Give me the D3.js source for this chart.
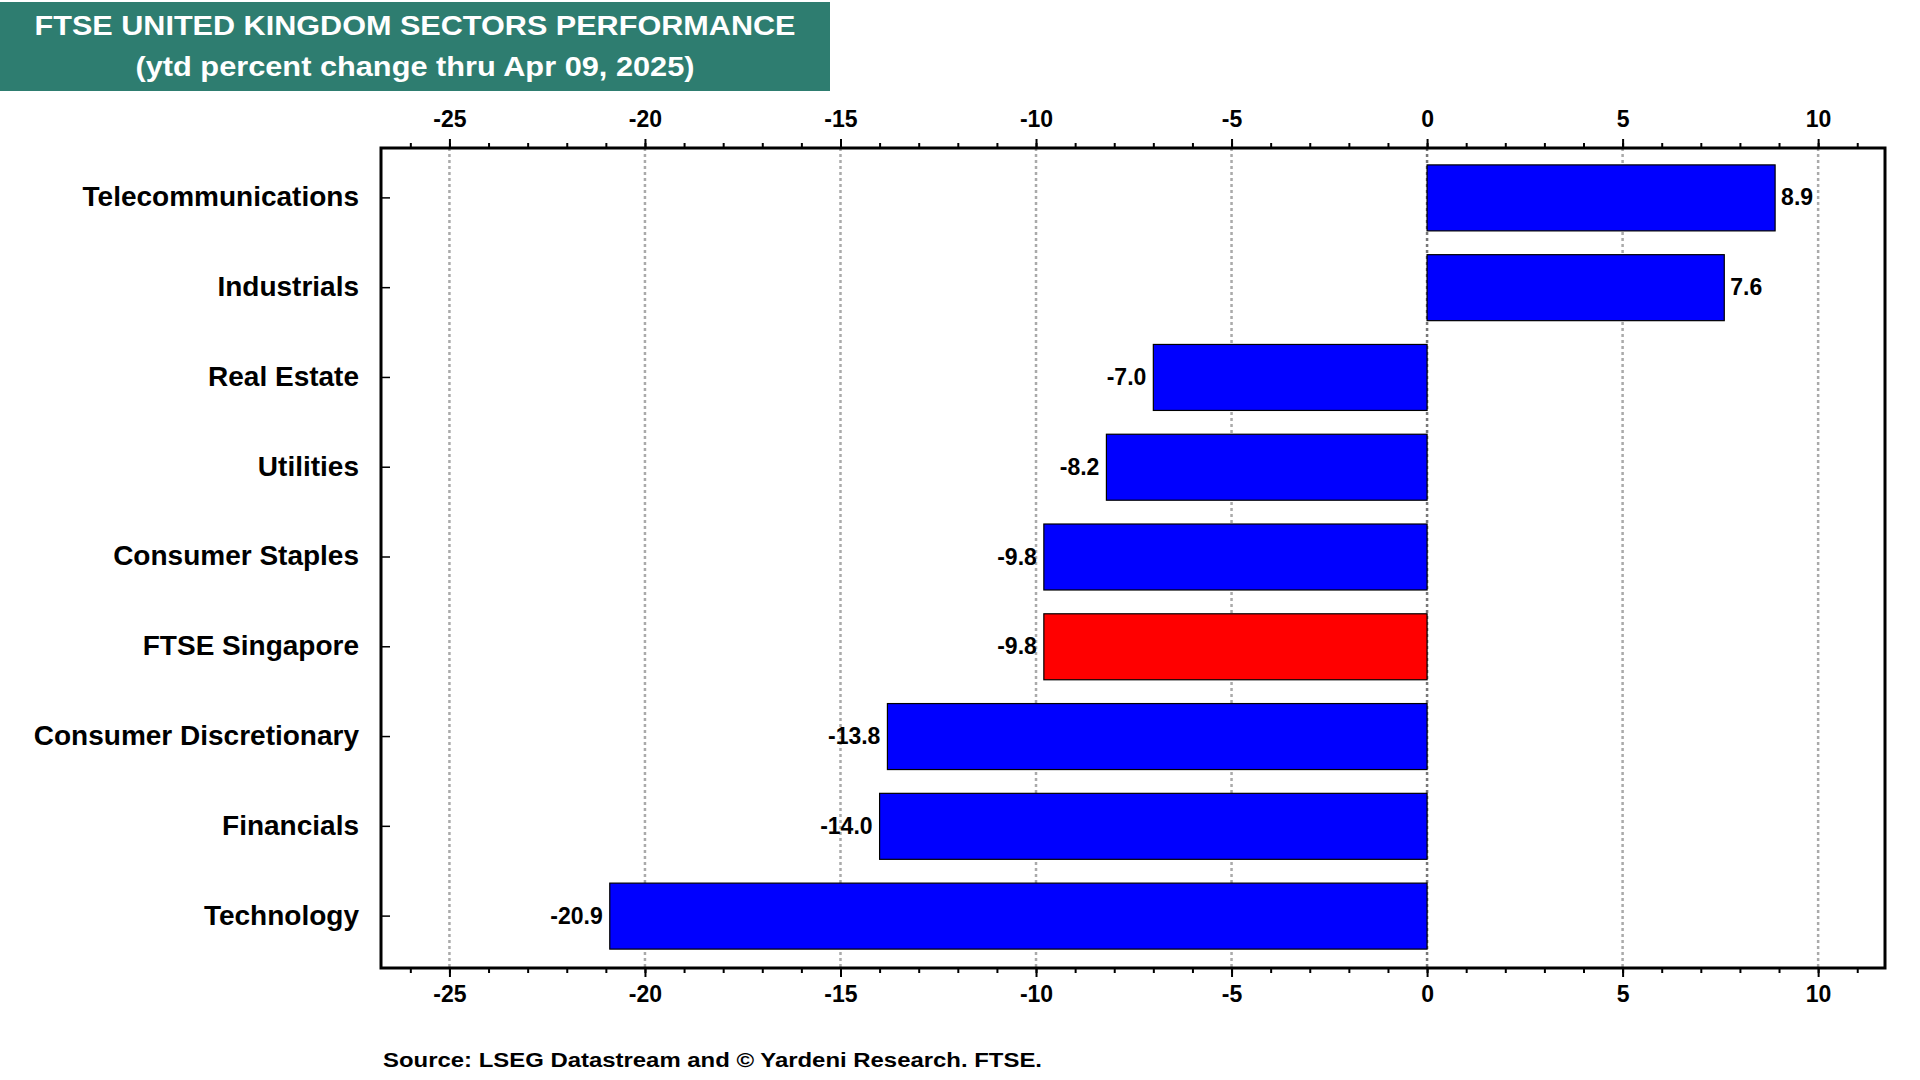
<!DOCTYPE html>
<html>
<head>
<meta charset="utf-8">
<script src="https://cdn.jsdelivr.net/npm/d3@7"></script>
<style>
  body { margin: 0; background: #fff; }
  text { font-family: "Liberation Sans", Arial, sans-serif; font-weight: bold; }
</style>
</head>
<body>
<div id="display"></div>
<script>

// values (ytd % change thru Apr 09, 2025)
var categories = ["Telecommunications", "Industrials", "Real Estate", "Utilities", "Consumer Staples",
                  "FTSE Singapore", "Consumer Discretionary", "Financials", "Technology"];
var values = [8.9, 7.6, -7.0, -8.2, -9.8, -9.8, -13.8, -14.0, -20.9];
var highlight = "FTSE Singapore";
var tickValues = [-25, -20, -15, -10, -5, 0, 5, 10];
var titleLines = ["FTSE UNITED KINGDOM SECTORS PERFORMANCE", "(ytd percent change thru Apr 09, 2025)"];
var source = "Source: LSEG Datastream and \u00A9 Yardeni Research. FTSE.";

var W = 1920, H = 1080;
var frame = {left: 381, right: 1885, top: 148, bottom: 968};

// plain hyphen for negatives, like the original
var locale = d3.formatLocale({decimal: ".", thousands: ",", grouping: [3], currency: ["", ""], minus: "-"});

var svg = d3.select("#display")
  .append("svg")
    .attr("width", W)
    .attr("height", H);

svg.append("rect").attr("width", W).attr("height", H).attr("fill", "#fff");

// title box
svg.append("rect")
  .attr("x", 0).attr("y", 2)
  .attr("width", 830).attr("height", 89)
  .attr("fill", "#2e7d70");

svg.selectAll(".title")
  .data(titleLines)
  .enter()
  .append("text")
    .attr("class", "title")
    .attr("x", 415)
    .attr("y", function(d, i){ return i == 0 ? 35 : 76 })
    .attr("text-anchor", "middle")
    .attr("fill", "#fff")
    .style("font-size", "27px")
    .attr("textLength", function(d, i){ return i == 0 ? 761 : 559 })
    .attr("lengthAdjust", "spacingAndGlyphs")
    .text(function(d){ return d });

// scales
var x = d3.scaleLinear()
    .domain([-26.75, 11.71])
    .range([frame.left, frame.right]);

var y = d3.scaleBand()
    .domain(categories)
    .range([153, 961])
    .paddingInner(0.265)
    .paddingOuter(0.1325);

// gridlines
svg.selectAll(".grid")
  .data(tickValues)
  .enter()
  .append("line")
    .attr("x1", function(d){ return x(d) })
    .attr("x2", function(d){ return x(d) })
    .attr("y1", frame.top)
    .attr("y2", frame.bottom)
    .attr("stroke", function(d){ return d == 0 ? "#777" : "#aaa" })
    .attr("stroke-width", 2.5)
    .attr("stroke-dasharray", "3,3");

// bars
var rows = categories.map(function(c, i){ return {name: c, value: values[i]} });

svg.selectAll(".bar")
  .data(rows)
  .enter()
  .append("rect")
    .attr("x", function(d){ return x(Math.min(0, d.value)) })
    .attr("y", function(d){ return y(d.name) })
    .attr("width", function(d){ return Math.abs(x(d.value) - x(0)) })
    .attr("height", y.bandwidth())
    .attr("fill", function(d){ return d.name == highlight ? "#ff0000" : "#0000ff" })
    .attr("stroke", "#000")
    .attr("stroke-width", 1.2);

// value labels
svg.selectAll(".val")
  .data(rows)
  .enter()
  .append("text")
    .attr("x", function(d){ return d.value >= 0 ? x(d.value) + 6 : x(d.value) - 7 })
    .attr("y", function(d){ return y(d.name) + y.bandwidth() / 2 })
    .attr("dy", "0.33em")
    .attr("text-anchor", function(d){ return d.value >= 0 ? "start" : "end" })
    .style("font-size", "23px")
    .text(function(d){ return locale.format(".1f")(d.value) });

// top and bottom axes
function styleAxis(g) {
  g.select(".domain").remove();
  g.selectAll("line").attr("stroke", "#000").attr("stroke-width", 2);
  g.selectAll("text").style("font-size", "23px").attr("fill", "#000");
}

var minor = d3.range(-26, 12, 1);

svg.append("g")
  .attr("transform", "translate(0," + frame.top + ")")
  .call(d3.axisTop(x).tickValues(minor).tickSize(5).tickFormat(""))
  .call(styleAxis);
svg.append("g")
  .attr("transform", "translate(0," + frame.top + ")")
  .call(d3.axisTop(x).tickValues(tickValues).tickSize(9).tickPadding(12).tickFormat(locale.format("d")))
  .call(styleAxis);

svg.append("g")
  .attr("transform", "translate(0," + frame.bottom + ")")
  .call(d3.axisBottom(x).tickValues(minor).tickSize(5).tickFormat(""))
  .call(styleAxis);
svg.append("g")
  .attr("transform", "translate(0," + frame.bottom + ")")
  .call(d3.axisBottom(x).tickValues(tickValues).tickSize(9).tickPadding(9).tickFormat(locale.format("d")))
  .call(styleAxis);

// category axis, ticks point inward
var yAxis = svg.append("g")
  .attr("transform", "translate(" + frame.left + ",0)")
  .call(d3.axisLeft(y).tickSize(-9).tickPadding(0).tickFormat(""));
yAxis.select(".domain").remove();
yAxis.selectAll("line").attr("stroke", "#000").attr("stroke-width", 1.5);

svg.selectAll(".cat")
  .data(categories)
  .enter()
  .append("text")
    .attr("x", 359)
    .attr("y", function(d){ return y(d) + y.bandwidth() / 2 })
    .attr("dy", "0.3em")
    .attr("text-anchor", "end")
    .style("font-size", "28px")
    .text(function(d){ return d });

// frame
svg.append("rect")
  .attr("x", frame.left)
  .attr("y", frame.top)
  .attr("width", frame.right - frame.left)
  .attr("height", frame.bottom - frame.top)
  .attr("fill", "none")
  .attr("stroke", "#000")
  .attr("stroke-width", 3);

svg.append("text")
  .attr("x", 383)
  .attr("y", 1067)
  .style("font-size", "20px")
  .attr("textLength", 659)
  .attr("lengthAdjust", "spacingAndGlyphs")
  .text(source);

</script>
</body>
</html>
